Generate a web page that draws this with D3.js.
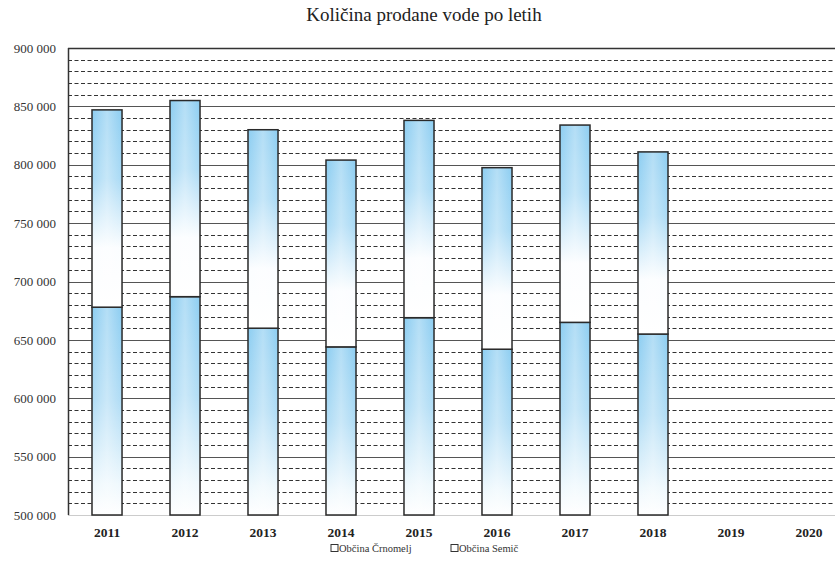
<!DOCTYPE html>
<html>
<head>
<meta charset="utf-8">
<script src="https://cdn.jsdelivr.net/npm/d3@7"></script>
<style>
  html, body { margin: 0; padding: 0; background: #fff; }
  svg { display: block; }
  svg text { font-family: "Liberation Serif", "Times New Roman", "DejaVu Serif", serif; }
</style>
</head>
<body>
<svg id="chart" width="835" height="568"></svg>
<script>
// ---- data ----
const years = ["2011", "2012", "2013", "2014", "2015", "2016", "2017", "2018", "2019", "2020"];
const seriesNames = ["Občina Črnomelj", "Občina Semič"];
const crnomelj = [678000, 687000, 660000, 644000, 669000, 642000, 665000, 655000, null, null];
const semic = [169000, 168000, 170000, 160000, 169000, 155500, 169000, 156000, null, null];
const yTicks = [500000, 550000, 600000, 650000, 700000, 750000, 800000, 850000, 900000];
const title = "Količina prodane vode po letih";

// ---- layout ----
const svg = d3.select("#chart");
const plotL = 68, plotR = 848, plotT = 48, plotB = 515;
const FONT = "'Liberation Serif', 'Times New Roman', 'DejaVu Serif', serif";

const x = d3.scaleBand().domain(years).range([plotL, plotR])
  .paddingInner(0.615).paddingOuter(0.3077);
const y = d3.scaleLinear().domain([500000, 900000]).range([plotB, plotT]).clamp(true);

// gradients
const defs = svg.append("defs");
const gTop = defs.append("linearGradient").attr("id", "gTop")
  .attr("x1", 0).attr("y1", 0).attr("x2", 0).attr("y2", 1);
gTop.append("stop").attr("offset", "0%").attr("stop-color", "#8ccdf1");
gTop.append("stop").attr("offset", "35%").attr("stop-color", "#a9daf5");
gTop.append("stop").attr("offset", "70%").attr("stop-color", "#fbfdff");
gTop.append("stop").attr("offset", "100%").attr("stop-color", "#ffffff");
const gBot = defs.append("linearGradient").attr("id", "gBot")
  .attr("x1", 0).attr("y1", 0).attr("x2", 0).attr("y2", 1);
gBot.append("stop").attr("offset", "0%").attr("stop-color", "#8ccdf1");
gBot.append("stop").attr("offset", "45%").attr("stop-color", "#afdcf5");
gBot.append("stop").attr("offset", "85%").attr("stop-color", "#eef8fd");
gBot.append("stop").attr("offset", "100%").attr("stop-color", "#ffffff");
const gSheen = defs.append("linearGradient").attr("id", "gSheen")
  .attr("x1", 0).attr("y1", 0).attr("x2", 1).attr("y2", 0);
gSheen.append("stop").attr("offset", "0%").attr("stop-color", "#fff").attr("stop-opacity", 0);
gSheen.append("stop").attr("offset", "50%").attr("stop-color", "#fff").attr("stop-opacity", 0.35);
gSheen.append("stop").attr("offset", "100%").attr("stop-color", "#fff").attr("stop-opacity", 0);

// title
svg.append("text").attr("x", 424).attr("y", 21)
  .attr("text-anchor", "middle")
  .style("font-family", FONT)
  .attr("font-size", 19).attr("fill", "#222")
  .text(title);

// minor gridlines (dashed) every 10 000
const minor = d3.range(510000, 900000, 10000).filter(v => v % 50000 !== 0);
svg.append("g").selectAll("line").data(minor).join("line")
  .attr("x1", plotL).attr("x2", plotR)
  .attr("y1", d => Math.round(y(d)) + 0.5).attr("y2", d => Math.round(y(d)) + 0.5)
  .attr("stroke", "#333").attr("stroke-width", 1.1)
  .attr("stroke-dasharray", "4,2.5");

// major gridlines
svg.append("g").selectAll("line").data(yTicks.filter(v => v > 500000)).join("line")
  .attr("x1", plotL).attr("x2", plotR)
  .attr("y1", d => Math.round(y(d)) + 0.5).attr("y2", d => Math.round(y(d)) + 0.5)
  .attr("stroke", d => d === 900000 ? "#333" : "#555").attr("stroke-width", d => d === 900000 ? 1.5 : 1);

// bottom baseline
svg.append("line").attr("x1", plotL).attr("x2", plotR)
  .attr("y1", plotB + 0.5).attr("y2", plotB + 0.5)
  .attr("stroke", "#ccc").attr("stroke-width", 1);

// left axis line
svg.append("line").attr("x1", plotL + 0.5).attr("x2", plotL + 0.5)
  .attr("y1", plotT).attr("y2", plotB)
  .attr("stroke", "#333").attr("stroke-width", 1.5);

// y axis labels
const yAxis = d3.axisLeft(y).tickValues(yTicks).tickSize(0).tickPadding(12)
  .tickFormat(d => d3.format(",")(d).replace(/,/g, " "));
const ya = svg.append("g").attr("transform", `translate(${plotL},0)`).call(yAxis);
ya.select(".domain").remove();
ya.attr("font-family", null).attr("font-size", null);
ya.selectAll("text").style("font-family", FONT)
  .attr("font-size", 13).attr("fill", "#333");

// x axis labels
const xAxis = d3.axisBottom(x).tickSize(0).tickPadding(12);
const xa = svg.append("g").attr("transform", `translate(0,${plotB})`).call(xAxis);
xa.select(".domain").remove();
xa.attr("font-family", null).attr("font-size", null);
xa.selectAll("text").style("font-family", FONT)
  .attr("font-size", 13.5).attr("font-weight", "bold").attr("fill", "#222");

// stacked bars
const rows = years.map((yr, i) => ({ year: yr, c: crnomelj[i], s: semic[i] }))
  .filter(r => r.c != null);
const stack = d3.stack().keys(["c", "s"]);
const stacked = stack(rows);
const fills = ["url(#gBot)", "url(#gTop)"];

stacked.forEach((layer, li) => {
  const g = svg.append("g");
  g.selectAll("rect.bar").data(layer).join("rect").attr("class", "bar")
    .attr("x", d => x(d.data.year))
    .attr("width", x.bandwidth())
    .attr("y", d => y(d[1]))
    .attr("height", d => y(d[0]) - y(d[1]))
    .attr("fill", fills[li]);
  g.selectAll("rect.sheen").data(layer).join("rect").attr("class", "sheen")
    .attr("x", d => x(d.data.year))
    .attr("width", x.bandwidth())
    .attr("y", d => y(d[1]))
    .attr("height", d => y(d[0]) - y(d[1]))
    .attr("fill", "url(#gSheen)");
  g.selectAll("rect.outline").data(layer).join("rect").attr("class", "outline")
    .attr("x", d => x(d.data.year))
    .attr("width", x.bandwidth())
    .attr("y", d => y(d[1]))
    .attr("height", d => y(d[0]) - y(d[1]))
    .attr("fill", "none").attr("stroke", "#2a2a2a").attr("stroke-width", 1.5);
});

// legend
const legendX = [331, 451];
const lg = svg.append("g");
seriesNames.forEach((name, i) => {
  lg.append("rect").attr("x", legendX[i]).attr("y", 544.5)
    .attr("width", 7).attr("height", 7)
    .attr("fill", "#fff").attr("stroke", "#333").attr("stroke-width", 1);
  lg.append("text").attr("x", legendX[i] + 8).attr("y", 552)
    .style("font-family", FONT)
    .attr("font-size", 10.5).attr("fill", "#333")
    .text(name);
});
</script>
</body>
</html>
